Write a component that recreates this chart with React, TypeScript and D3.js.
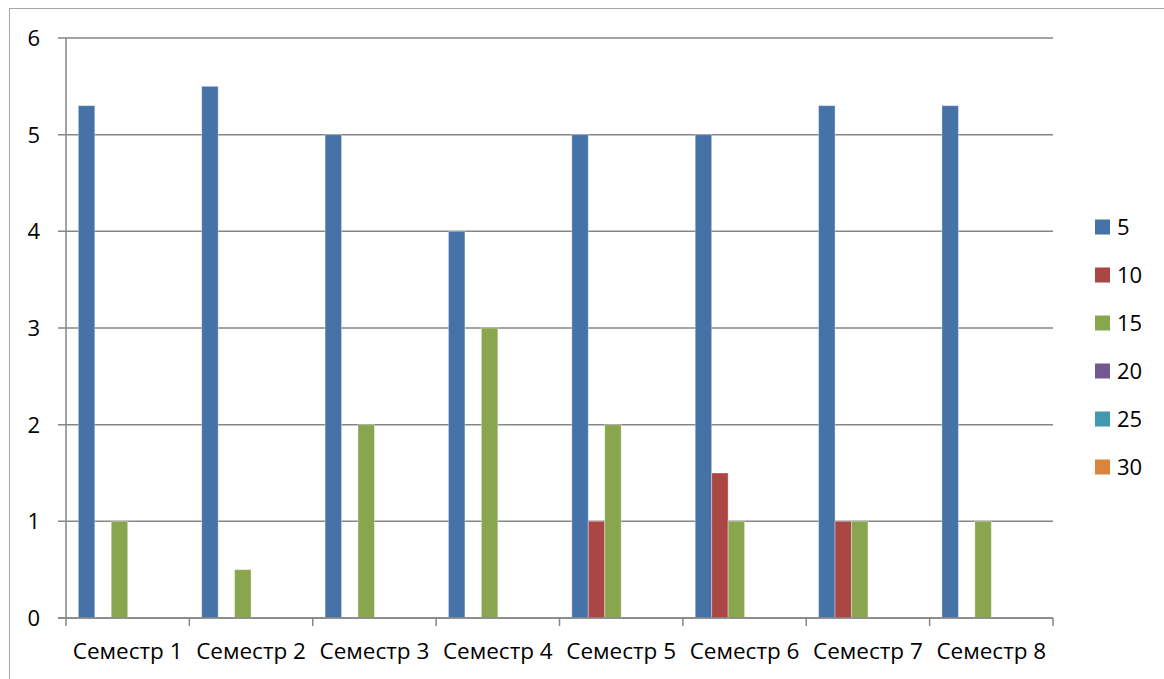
import React from "react";
import * as d3 from "d3";

const categories = ["Семестр 1", "Семестр 2", "Семестр 3", "Семестр 4", "Семестр 5", "Семестр 6", "Семестр 7", "Семестр 8"];
const seriesNames = ["5", "10", "15", "20", "25", "30"];
const s5 = [5.3, 5.5, 5, 4, 5, 5, 5.3, 5.3];
const s10 = [0, 0, 0, 0, 1, 1.5, 1, 0];
const s15 = [1, 0.5, 2, 3, 2, 1, 1, 1];
const s20 = [0, 0, 0, 0, 0, 0, 0, 0];
const s25 = [0, 0, 0, 0, 0, 0, 0, 0];
const s30 = [0, 0, 0, 0, 0, 0, 0, 0];
const seriesValues = [s5, s10, s15, s20, s25, s30];
const colors = ["#4572A7", "#AA4643", "#89A54E", "#71588F", "#4198AF", "#DB843D"];
const yTicks = [0, 1, 2, 3, 4, 5, 6];

const W = 1164;
const H = 679;
const left = 66;
const right = 1053;
const top = 38;
const bottom = 618;
const font = "'Open Sans', sans-serif";

export default function App() {
  const x0 = d3.scaleBand<string>().domain(categories).range([left, right]).padding(0);
  const x1 = d3
    .scaleBand<string>()
    .domain(seriesNames)
    .range([0, x0.bandwidth()])
    .paddingInner(0)
    .paddingOuter(0.75);
  const y = d3.scaleLinear().domain([0, 6]).range([bottom, top]);
  const gridColor = "#868686";

  return (
    <svg width={W} height={H} style={{ position: "absolute", left: 0, top: 0, background: "#fff" }}>
      <rect x={9.5} y={8.5} width={W + 20} height={H + 20} fill="#fff" stroke="#a6a6a6" strokeWidth={1} />
      {yTicks.map((t) => (
        <g key={t}>
          <line x1={58} x2={right} y1={y(t)} y2={y(t)} stroke={gridColor} strokeWidth={1.5} />
          <text x={40} y={y(t)} dy="0.36em" textAnchor="end" fontFamily={font} fontSize={22} fill="#000">
            {t}
          </text>
        </g>
      ))}
      <line x1={left} x2={left} y1={top} y2={bottom + 8} stroke={gridColor} strokeWidth={1.5} />
      {categories.map((c) => (
        <line key={c} x1={x0(c)! + x0.bandwidth()} x2={x0(c)! + x0.bandwidth()} y1={bottom} y2={bottom + 8} stroke={gridColor} strokeWidth={1.5} />
      ))}
      {seriesNames.map((s, si) => (
        <g key={s}>
          {categories.map((c, ci) => {
            const v = seriesValues[si][ci];
            if (!v) return null;
            return (
              <rect
                key={c}
                x={x0(c)! + x1(s)!}
                y={y(v)}
                width={x1.bandwidth()}
                height={y(0) - y(v)}
                fill={colors[si]}
                stroke="#ffffff"
                strokeOpacity={0.35}
                strokeWidth={1}
              />
            );
          })}
        </g>
      ))}
      <line x1={58} x2={right} y1={bottom} y2={bottom} stroke={gridColor} strokeWidth={1.5} />
      {categories.map((c) => (
        <text key={c} x={x0(c)! + x0.bandwidth() / 2} y={659} textAnchor="middle" fontFamily={font} fontSize={22.5} fill="#000">
          {c}
        </text>
      ))}
      {seriesNames.map((s, i) => (
        <g key={s} transform={`translate(1095, ${227 + 48 * i})`}>
          <rect x={0} y={-7.5} width={15} height={15} fill={colors[i]} />
          <text x={22} y={0} dy="0.36em" fontFamily={font} fontSize={22} fill="#000">
            {s}
          </text>
        </g>
      ))}
    </svg>
  );
}
